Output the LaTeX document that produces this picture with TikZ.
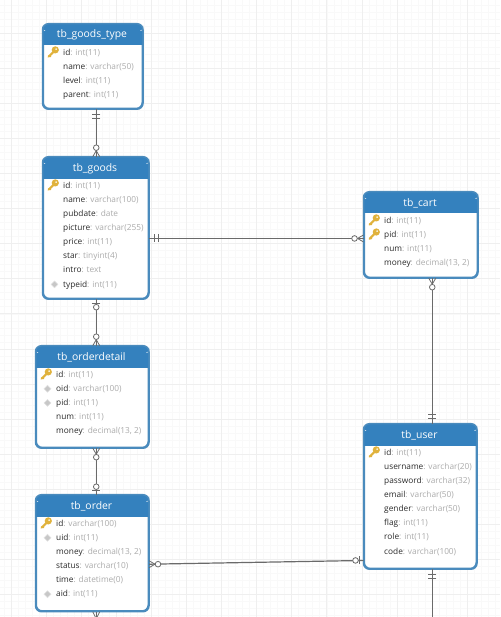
\documentclass[tikz,border=0pt]{standalone}
\usepackage{fontspec}
\setmainfont{Open Sans}
\usetikzlibrary{calc}
\definecolor{hdr}{HTML}{3481BE}
\definecolor{edge}{HTML}{4A8BBD}
\definecolor{connc}{HTML}{6A6A6A}
\definecolor{typec}{HTML}{ABABAB}
\definecolor{namec}{HTML}{2A2A2A}
\definecolor{keyc}{HTML}{E0B23C}
\definecolor{gridminor}{HTML}{F9F9F9}
\definecolor{gridmajor}{HTML}{EFEFEF}
\tikzset{
  tablebox/.style={draw=edge,line width=1.5pt,fill=white,rounded corners=6pt,inner sep=0pt,anchor=north west},
  titletext/.style={text=white,font=\fontsize{10.4}{12}\selectfont,inner sep=0pt},
  fieldtext/.style={font=\fontsize{8.3}{10}\selectfont,inner sep=0pt,anchor=base west,text=namec},
  connline/.style={draw=connc,line width=1.2pt},
  tipline/.style={draw=connc,line width=0.8pt},
  pics/crowring/.style={code={
    \draw[tipline] (0,-3.5) -- (6,0) -- (0,3.5);
    \draw[tipline,fill=white] (9,0) circle (2.8);
  }},
  pics/crowonly/.style={code={
    \draw[tipline] (0,-3.5) -- (7,0) -- (0,3.5);
  }},
  pics/twobars/.style={code={
    \draw[tipline] (5,-4) -- (5,4) (9,-4) -- (9,4);
  }},
  pics/barring/.style={code={
    \draw[tipline] (4,-4) -- (4,4);
    \draw[tipline,fill=white] (8,0) circle (2.8);
  }},
  pics/goldkey/.style={code={
    \draw[keyc,line width=2.1pt,line cap=round] (-4.5,4.5) -- (1,-0.8);
    \draw[keyc,line width=1.4pt] (-3.4,3.4) -- (-2.2,4.6);
    \fill[keyc,even odd rule] (2.3,-2.3) circle (3.6) (3.1,-3.1) circle (1.1);
  }},
  pics/graydiamond/.style={code={
    \draw[fill=black!22,draw=black!12,line width=0.6pt] (-3.4,0) -- (0,-3.4) -- (3.4,0) -- (0,3.4) -- cycle;
  }},
}
% #1 table, #2 index, #3 kind (k,d,n), #4 name, #5 type
\newcommand{\fieldrow}[5]{%
  \node[fieldtext] (#1-f#2) at ($(#1.north west)+(20.5,{31.6+(#2-1)*14.1})$) {#4\textcolor{typec}{: #5}};
  \if#3k\pic at ($(#1.north west)+(10.5,{28.5+(#2-1)*14.1})$) {goldkey};\fi
  \if#3d\pic at ($(#1.north west)+(12,{29+(#2-1)*14.1})$) {graydiamond};\fi
}
% #1 name, #2 x, #3 y, #4 w, #5 h, #6 header h, #7 title
\newcommand{\erd}[7]{%
  \node[tablebox,minimum width=#4pt,minimum height=#5pt] (#1) at (#2-0.5,#3-0.3) {};
  \fill[hdr,rounded corners=6pt] ($(#1.north west)+(0,8)$) -- ($(#1.north west)$) -- ($(#1.north east)$) -- ($(#1.north east)+(0,8)$) -- cycle;
  \fill[hdr] ($(#1.north west)+(0,7)$) rectangle ($(#1.north east)+(0,#6)$);
  \draw[edge,line width=1.5pt,rounded corners=6pt] (#1.north west) rectangle (#1.south east);
  \node[titletext] (#1-title) at ($(#1.north west)+(#4/2,#6/2+0.7)$) {#7};
}
\begin{document}
\begin{tikzpicture}[x=1pt,y=-1pt]
\useasboundingbox (0,0) rectangle (500,617);
\fill[white] (0,0) rectangle (500,617);
\begin{scope}
\clip (0,0) rectangle (500,617);
\foreach \i in {-1,...,71} \draw[gridminor,line width=0.8pt] ({11+\i*7.02},0) -- ({11+\i*7.02},617);
\foreach \i in {0,...,89} \draw[gridminor,line width=0.8pt] (0,{-2+\i*7.02}) -- (500,{-2+\i*7.02});
\foreach \i in {0,...,14} \draw[gridmajor,line width=1pt] ({11+\i*35.1},0) -- ({11+\i*35.1},617);
\foreach \i in {0,...,18} \draw[gridmajor,line width=1pt] (0,{-2+\i*35.1}) -- (500,{-2+\i*35.1});
\end{scope}

\erd{gtype}{43}{24}{99}{84}{21.5}{tb\_goods\_type}
\erd{goods}{43}{157}{105}{141}{22}{tb\_goods}
\erd{odetail}{36}{346}{112}{101}{22}{tb\_orderdetail}
\erd{order}{36}{495}{112}{115.5}{22}{tb\_order}
\erd{cart}{364}{192}{113}{85}{21.5}{tb\_cart}
\erd{user}{364}{424}{112}{144}{22}{tb\_user}

\fieldrow{gtype}{1}{k}{id}{int(11)}
\fieldrow{gtype}{2}{n}{name}{varchar(50)}
\fieldrow{gtype}{3}{n}{level}{int(11)}
\fieldrow{gtype}{4}{n}{parent}{int(11)}

\fieldrow{goods}{1}{k}{id}{int(11)}
\fieldrow{goods}{2}{n}{name}{varchar(100)}
\fieldrow{goods}{3}{n}{pubdate}{date}
\fieldrow{goods}{4}{n}{picture}{varchar(255)}
\fieldrow{goods}{5}{n}{price}{int(11)}
\fieldrow{goods}{6}{n}{star}{tinyint(4)}
\fieldrow{goods}{7}{n}{intro}{text}
\fieldrow{goods}{8}{d}{typeid}{int(11)}

\fieldrow{odetail}{1}{k}{id}{int(11)}
\fieldrow{odetail}{2}{d}{oid}{varchar(100)}
\fieldrow{odetail}{3}{d}{pid}{int(11)}
\fieldrow{odetail}{4}{n}{num}{int(11)}
\fieldrow{odetail}{5}{n}{money}{decimal(13, 2)}

\fieldrow{order}{1}{k}{id}{varchar(100)}
\fieldrow{order}{2}{d}{uid}{int(11)}
\fieldrow{order}{3}{n}{money}{decimal(13, 2)}
\fieldrow{order}{4}{n}{status}{varchar(10)}
\fieldrow{order}{5}{n}{time}{datetime(0)}
\fieldrow{order}{6}{d}{aid}{int(11)}

\fieldrow{cart}{1}{k}{id}{int(11)}
\fieldrow{cart}{2}{k}{pid}{int(11)}
\fieldrow{cart}{3}{n}{num}{int(11)}
\fieldrow{cart}{4}{n}{money}{decimal(13, 2)}

\fieldrow{user}{1}{k}{id}{int(11)}
\fieldrow{user}{2}{n}{username}{varchar(20)}
\fieldrow{user}{3}{n}{password}{varchar(32)}
\fieldrow{user}{4}{n}{email}{varchar(50)}
\fieldrow{user}{5}{n}{gender}{varchar(50)}
\fieldrow{user}{6}{n}{flag}{int(11)}
\fieldrow{user}{7}{n}{role}{int(11)}
\fieldrow{user}{8}{n}{code}{varchar(100)}

% connector ends
\coordinate (a1) at ($(goods.north)+(0.5,0)$);
\coordinate (a0) at (a1 |- gtype.south);
\coordinate (b0) at ($(goods.south)+(0.5,0)$);
\coordinate (b1) at (b0 |- odetail.north);
\coordinate (c0) at (b0 |- odetail.south);
\coordinate (c1) at (b0 |- order.north);
\coordinate (d0) at ($(goods.east)+(0,10.5)$);
\coordinate (d1) at (cart.west |- d0);
\coordinate (e0) at ($(cart.south)+(11.5,0)$);
\coordinate (e1) at (e0 |- user.north);
\coordinate (f0) at ($(order.east)+(0,11)$);
\coordinate (f1) at ($(user.west)+(0,64)$);
\coordinate (g0) at (e0 |- user.south);
\coordinate (g1) at (e0 |- 0,617);
\coordinate (h0) at (b0 |- order.south);
\coordinate (h1) at (b0 |- 0,617);

\draw[connline] (a0) -- (a1);
\draw[connline] (b0) -- (b1);
\draw[connline] (c0) -- (c1);
\draw[connline] (d0) -- (d1);
\draw[connline] (e0) -- (e1);
\draw[connline] (f0) -- (f1);
\draw[connline] (g0) -- (g1);
\draw[connline] (h0) -- (h1);

\pic[rotate=-90] at (a0) {twobars};
\pic[rotate=90] at (a1) {crowring};
\pic[rotate=-90] at (b0) {barring};
\pic[rotate=90] at (b1) {crowring};
\pic[rotate=-90] at (c0) {crowring};
\pic[rotate=90] at (c1) {barring};
\pic at (d0) {twobars};
\pic[rotate=180] at (d1) {crowring};
\pic[rotate=-90] at (e0) {crowring};
\pic[rotate=90] at (e1) {twobars};
\pic at (f0) {crowring};
\pic[rotate=180] at (f1) {barring};
\pic[rotate=-90] at (g0) {twobars};
\pic[rotate=-90] at (h0) {crowonly};
\end{tikzpicture}
\end{document}
